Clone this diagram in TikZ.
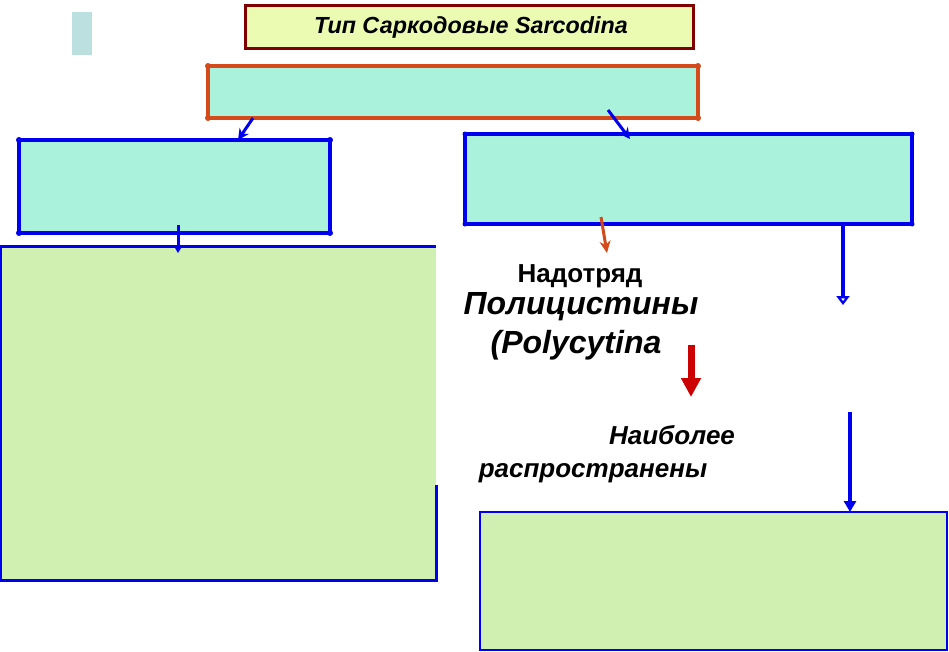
\documentclass[tikz,border=0pt]{standalone}
\usepackage{fontspec}
\setmainfont{Liberation Sans}
\usetikzlibrary{arrows.meta,calc}
\definecolor{titlefill}{HTML}{EBFCB2}
\definecolor{titledraw}{HTML}{800000}
\definecolor{aqua}{HTML}{ABF2DC}
\definecolor{orng}{HTML}{D44A1A}
\definecolor{blu}{HTML}{0000F0}
\definecolor{grn}{HTML}{CFF0B1}
\definecolor{teal}{HTML}{BCE0E0}
\definecolor{dred}{HTML}{CC0000}
\tikzset{
  every node/.style={inner sep=0pt,outer sep=0pt},
  boxnw/.style={anchor=north west,rectangle},
  bluebox/.style={boxnw,fill=aqua,draw=blu,line width=3.5pt},
  barrow/.style={draw=blu,line width=3pt,-{Stealth[length=11pt,width=11pt]}},
  lbl/.style={anchor=base,font=\bfseries\fontsize{26}{30}\selectfont},
  lbli/.style={anchor=base,font=\bfseries\itshape\fontsize{26}{30}\selectfont},
}
\begin{document}
\begin{tikzpicture}[x=1pt,y=-1pt]
\useasboundingbox (0,0) rectangle (949,651);
% small teal bar
\node[boxnw,fill=teal,minimum width=20pt,minimum height=43pt] (bar) at (72,12) {};
% title
\node[boxnw,fill=titlefill,draw=titledraw,line width=3pt,minimum width=448pt,minimum height=43pt] (title) at (245,5) {};
\node[font=\bfseries\itshape\fontsize{23.3}{26}\selectfont] (ttxt) at ($(title.center)+(2,1)$) {Тип Саркодовые Sarcodina};
% orange box
\node[boxnw,fill=aqua,draw=orng,line width=3.5pt,minimum width=490pt,minimum height=52pt] (ob) at (208,66) {};
\foreach \c in {north west,north east,south west,south east}{\fill[orng] (ob.\c) circle (3pt);}
% left blue box
\node[bluebox,minimum width=311pt,minimum height=93pt] (lb) at (19,140) {};
\foreach \c in {north west,north east,south west,south east}{\fill[blu] (lb.\c) circle (3pt);}
% right blue box
\node[bluebox,minimum width=447pt,minimum height=90pt] (rb) at (465,134) {};
\foreach \c in {north west,north east,south west,south east}{\fill[blu] (rb.\c) circle (2.5pt);}
% left green box
\node[boxnw,fill=grn,minimum width=436pt,minimum height=334pt] (lg) at (0,246) {};
\draw[blu,line width=3pt] (lg.north east) -- (lg.north west) -- (lg.south west) -- (lg.south east) -- ++(0,-95);
% bottom right green box
\node[boxnw,fill=grn,draw=blu,line width=1.2pt,minimum width=467pt,minimum height=138pt] (rg) at (480,512) {};
% texts
\node[lbl] (t1) at (580,282) {Надотряд};
\node[anchor=base,font=\bfseries\itshape\fontsize{32}{36}\selectfont] (t2) at (581,314) {Полицистины};
\node[anchor=base,font=\bfseries\itshape\fontsize{32}{36}\selectfont] (t3) at (576,353) {(Polycytina};
\node[lbli] (t4) at (672,444) {Наиболее};
\node[lbli] (t5) at (593,477) {распространены};
% arrows
\draw[barrow] ([xshift=45pt]ob.south west) -- ([xshift=219pt]lb.north west);
\draw[barrow] ([xshift=400pt,yshift=8pt]ob.south west) -- ([xshift=165pt,yshift=-5pt]rb.north west);
\draw[draw=blu,line width=3pt,-{Stealth[length=6pt,width=7pt]}] ([xshift=159pt,yshift=8pt]lb.south west) -- ([xshift=178pt,yshift=-7pt]lg.north west);
\coordinate (a4end) at ([xshift=142pt,yshift=-29pt]rb.south west);
\draw[draw=orng,line width=3pt,-{Stealth[length=12pt,width=11pt]}] ([xshift=136pt,yshift=7pt]rb.south west) -- (a4end);
\coordinate (a5end) at ([xshift=378pt,yshift=-81pt]rb.south west);
\draw[draw=blu,line width=4pt,-{Triangle[open,length=9pt,width=13pt]}] ([xshift=378pt]rb.south west) -- (a5end);
\coordinate (a6s) at (691,345);
\coordinate (a6e) at (691,397);
\draw[draw=dred,line width=7pt,-{Triangle[length=19pt,width=19pt]}] (a6s) -- (a6e);
\coordinate (a7s) at (850,412);
\draw[draw=blu,line width=4.5pt,-{Triangle[length=11pt,width=12pt]}] (a7s) -- ([xshift=370pt]rg.north west);
\end{tikzpicture}
\end{document}
